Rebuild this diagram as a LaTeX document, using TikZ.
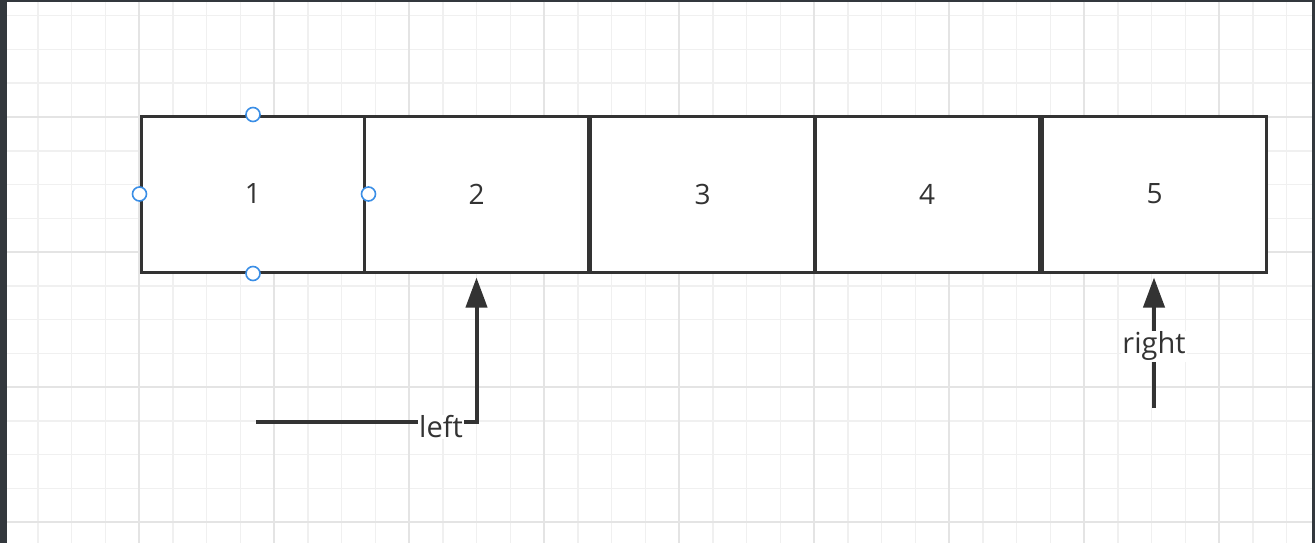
\documentclass[tikz,border=0pt]{standalone}
\usepackage{fontspec}
\setmainfont{Open Sans}
\usetikzlibrary{arrows.meta}
\definecolor{frame}{HTML}{33383D}
\definecolor{ink}{HTML}{333333}
\definecolor{gridminor}{HTML}{F0F0F0}
\definecolor{gridmajor}{HTML}{E4E4E4}
\definecolor{handle}{HTML}{3A8EE6}
\newcommand{\celltext}[1]{\raisebox{-3pt}{#1}}
\tikzset{
  cell/.style={draw=ink, line width=3pt, fill=white, minimum width=224pt, minimum height=156pt, inner sep=0pt, font=\fontsize{28}{28}\selectfont, text=ink},
  hdl/.style={circle, draw=handle, line width=1.6pt, fill=white, minimum size=14pt, inner sep=0pt},
  pointer/.style={draw=ink, line width=4pt, -{Triangle[length=30pt,width=21pt]}, shorten >=4pt},
  lbl/.style={fill=white, inner sep=1pt, font=\fontsize{29}{29}\selectfont, text=ink}
}
\begin{document}
\begin{tikzpicture}[x=1pt,y=-1pt]
\useasboundingbox (0,0) rectangle (1315,543);
\fill[frame] (0,0) rectangle (1315,543);
\fill[white] (7,2) rectangle (1312,543);
% grid
\begin{scope}
\clip (7,2) rectangle (1312,543);
\foreach \k in {0,...,38} {
  \draw[gridminor, line width=1.5pt] ({4+33.75*\k},2) -- ({4+33.75*\k},543);
}
\foreach \k in {-3,...,12} {
  \draw[gridminor, line width=1.5pt] (7,{117+33.75*\k}) -- (1312,{117+33.75*\k});
}
\foreach \k in {0,...,8} {
  \draw[gridmajor, line width=1.5pt] ({139+135*\k},2) -- ({139+135*\k},543);
}
\foreach \k in {0,...,3} {
  \draw[gridmajor, line width=1.5pt] (7,{117+135*\k}) -- (1312,{117+135*\k});
}
\end{scope}
% cells
\node[cell] (b1) at (253,194) {\celltext{1}};
\node[cell] (b2) at (476.5,194) {\celltext{2}};
\node[cell] (b3) at (702.5,194) {\celltext{3}};
\node[cell] (b4) at (927,194) {\celltext{4}};
\node[cell] (b5) at (1154.5,194) {\celltext{5}};
% handles
\node[hdl] (h1) at (b1.north) {};
\node[hdl] (h2) at (b1.west) {};
\node[hdl] (h3) at ([xshift=2pt]b1.east) {};
\node[hdl] (h4) at (b1.south) {};
% left pointer
\coordinate (ls) at (256,422);
\draw[pointer] (ls) -| (b2.south);
\node[lbl] (ll) at (441,427) {left};
% right pointer
\coordinate (rs) at (1154,408);
\draw[pointer] (rs) -- (rs |- b5.south);
\node[lbl] (rl) at (1154,346) {right};
\end{tikzpicture}
\end{document}
